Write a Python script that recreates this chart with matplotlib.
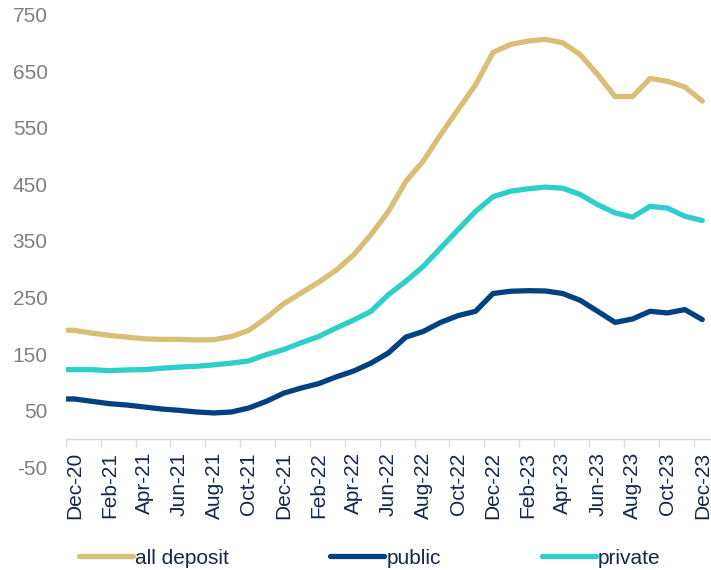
import matplotlib
matplotlib.use("Agg")
import matplotlib.pyplot as plt
import pandas as pd

# Monthly series, Nov-20 .. Dec-23 (the first month sits just left of the visible range)
months = list(pd.date_range("2020-11-01", "2023-12-01", freq="MS").strftime("%b-%y"))

all_deposit = [192, 192, 187, 183, 180, 177, 176, 176, 175, 175.5, 181, 192, 214,
               239, 258, 277, 298, 325, 361, 402, 455, 491, 538, 582, 626, 683,
               697, 703, 706, 700, 679, 644, 605, 605, 637, 632, 622, 597]
public = [70.7, 70.7, 66.5, 62.4, 60, 56.5, 53, 50.6, 47.7, 46, 47.7, 54.8, 66.5,
          81, 90, 97.8, 109.6, 120, 134, 152, 180, 190, 206, 218, 225.6, 257,
          261, 262, 261.5, 257, 245, 225.6, 206, 212, 225.6, 222.7, 228.6, 211]
private = [122.5, 122.5, 122.5, 120.7, 122, 122.5, 125, 127, 128.5, 131, 134, 138,
           149, 158, 170, 181, 196, 210, 225.5, 255, 278.6, 305, 337.6, 370, 402,
           428, 437.7, 442, 445, 443, 432, 414, 399.5, 392, 411, 408, 393.5, 386]

series_names = ["all deposit", "public", "private"]
colors = ["#D9BE75", "#00427F", "#2ECFCB"]
y_ticks = list(range(-50, 751, 100))

plt.rcParams["font.family"] = ["Liberation Sans", "DejaVu Sans"]

fig = plt.figure(figsize=(7.11, 5.70), dpi=100)
ax = fig.add_axes([0.0925, 0.1802, 0.9075, 0.7944])

x = list(range(len(months)))
for vals, name, col in zip([all_deposit, public, private], series_names, colors):
    ax.plot(x, vals, color=col, lw=3.8, label=name,
            solid_capstyle="round", solid_joinstyle="round")

ax.set_xlim(0.5, len(months) - 0.5)
ax.set_ylim(-50, 750)
ax.set_yticks(y_ticks)
ax.set_yticklabels([str(v) for v in y_ticks])
ax.tick_params(axis="y", length=0, pad=13, labelsize=15, labelcolor="#7F7F7F")

# category axis: tick marks at boundaries every two months, labels centred
ax.set_xticks([i + 0.5 for i in range(0, len(months) - 1, 2)])
ax.set_xticks(list(range(1, len(months), 2)), minor=True)
ax.tick_params(axis="x", which="major", length=6, width=1, color="#D9D9D9",
               direction="out", labelbottom=False)
ax.tick_params(axis="x", which="minor", length=0, pad=9.5, labelsize=15,
               labelcolor="#14284B", labelrotation=90)
ax.set_xticklabels(months[1::2], minor=True)

for side in ["left", "right", "top"]:
    ax.spines[side].set_visible(False)
ax.spines["bottom"].set_position(("data", 0))
ax.spines["bottom"].set_color("#D9D9D9")
ax.spines["bottom"].set_linewidth(1)

handles, labels = ax.get_legend_handles_labels()
fig.legend(handles, labels, loc="center left", bbox_to_anchor=(79 / 711, 0.021),
           ncol=3, frameon=False, fontsize=15, handlelength=2.6,
           handletextpad=0.1, columnspacing=4.85, borderpad=0, borderaxespad=0,
           labelcolor="#14284B")

fig.savefig("out.png", dpi=100)
